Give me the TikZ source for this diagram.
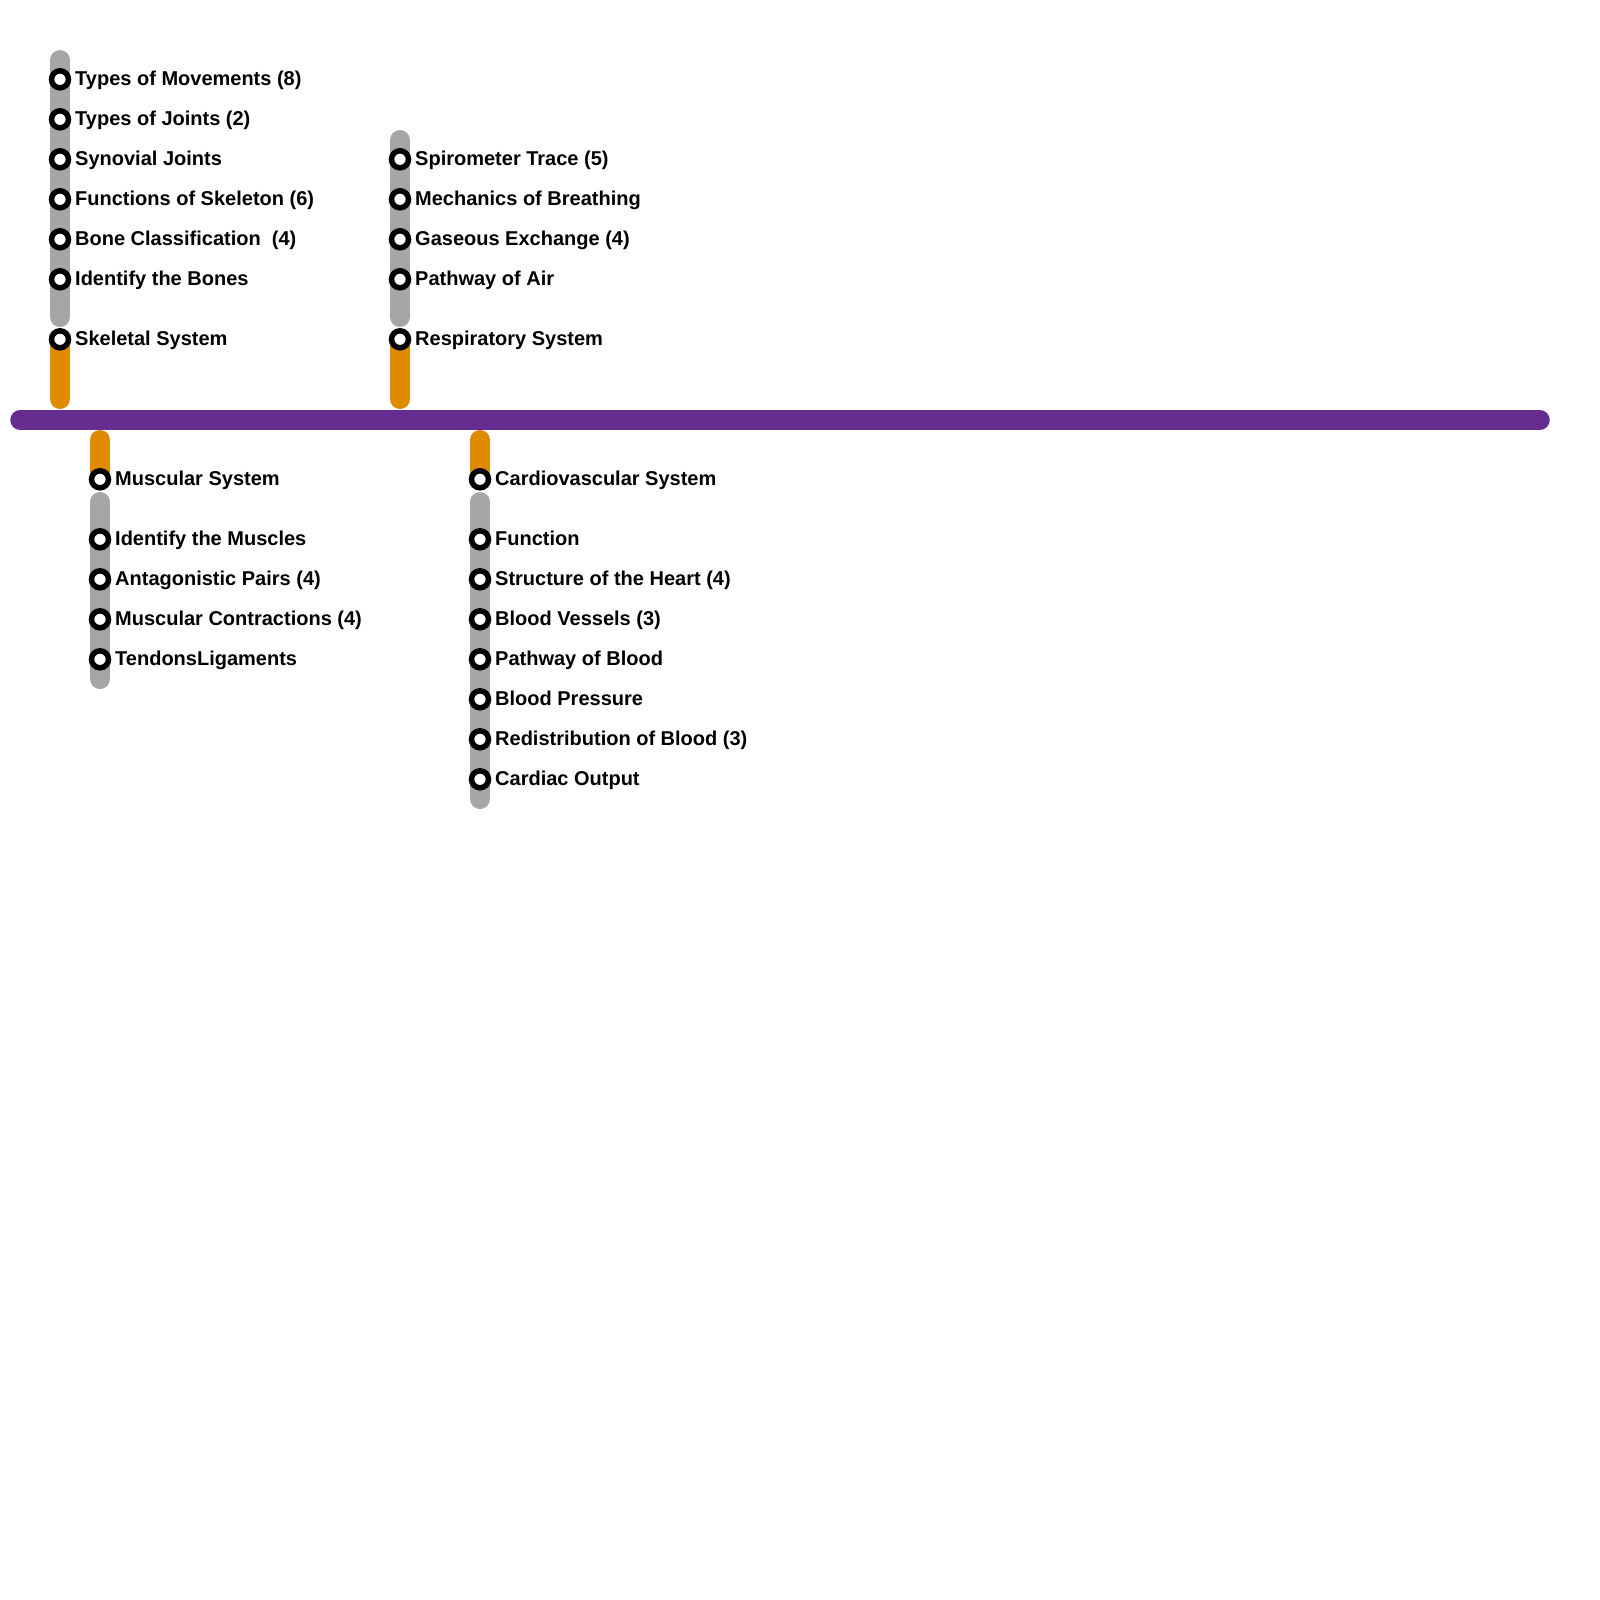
\documentclass[tikz,border=0pt]{standalone}
\usepackage{fontspec}
\setmainfont{Liberation Sans}
\definecolor{linepurple}{HTML}{662D91}
\definecolor{lineorange}{HTML}{E08A00}
\definecolor{linegray}{HTML}{A6A6A6}
\begin{document}
\begin{tikzpicture}[x=1pt,y=-1pt,
  trunk/.style={line width=19.5pt,line cap=round,draw=linepurple},
  branch/.style={line width=20pt,line cap=round,draw=lineorange},
  topic/.style={line width=20pt,line cap=round,draw=linegray},
  station/.style={circle,draw=black,fill=white,line width=5.5pt,minimum size=17pt,inner sep=0pt},
  lbl/.style={anchor=base west,inner sep=0pt,font=\fontsize{20}{22}\selectfont\bfseries}]
\useasboundingbox (0,0) rectangle (1600,1600);
% trunk
\coordinate (tl) at (20,420);
\coordinate (tr) at (1540,420);
\draw[trunk] (tl) -- (tr);
% skeletal
\coordinate (skA) at (60,60);
\coordinate (skB) at (60,317);
\coordinate (skC) at (60,339);
\coordinate (skD) at (60,399);
\draw[branch] (skC) -- (skD);
\draw[topic] (skA) -- (skB);
% respiratory
\coordinate (reA) at (400,140);
\coordinate (reB) at (400,317);
\coordinate (reC) at (400,339);
\coordinate (reD) at (400,399);
\draw[branch] (reC) -- (reD);
\draw[topic] (reA) -- (reB);
% muscular
\coordinate (muA) at (100,440);
\coordinate (muB) at (100,479);
\coordinate (muC) at (100,502);
\coordinate (muD) at (100,679);
\draw[branch] (muA) -- (muB);
\draw[topic] (muC) -- (muD);
% cardio
\coordinate (caA) at (480,440);
\coordinate (caB) at (480,479);
\coordinate (caC) at (480,502);
\coordinate (caD) at (480,799);
\draw[branch] (caA) -- (caB);
\draw[topic] (caC) -- (caD);
% stations skeletal
\foreach \n/\y/\t in {s1/79.3/{Types of Movements (8)},s2/119.3/{Types of Joints (2)},s3/159.3/{Synovial Joints},s4/199.3/{Functions of Skeleton (6)},s5/239.3/{Bone Classification\ \ (4)},s6/279.3/{Identify the Bones},s7/339.3/{Skeletal System}}{
  \node[station] (\n) at (60,\y) {};
  \node[lbl] (\n t) at (75,\y+6) {\t};
}
\foreach \n/\y/\t in {r1/159.3/{Spirometer Trace (5)},r2/199.3/{Mechanics of Breathing},r3/239.3/{Gaseous Exchange (4)},r4/279.3/{Pathway of Air},r5/339.3/{Respiratory System}}{
  \node[station] (\n) at (400,\y) {};
  \node[lbl] (\n t) at (415,\y+6) {\t};
}
\foreach \n/\y/\t in {m1/479.3/{Muscular System},m2/539.3/{Identify the Muscles},m3/579.3/{Antagonistic Pairs (4)},m4/619.3/{Muscular Contractions (4)},m5/659.3/{TendonsLigaments}}{
  \node[station] (\n) at (100,\y) {};
  \node[lbl] (\n t) at (115,\y+6) {\t};
}
\foreach \n/\y/\t in {c1/479.3/{Cardiovascular System},c2/539.3/{Function},c3/579.3/{Structure of the Heart (4)},c4/619.3/{Blood Vessels (3)},c5/659.3/{Pathway of Blood},c6/699.3/{Blood Pressure},c7/739.3/{Redistribution of Blood (3)},c8/779.3/{Cardiac Output}}{
  \node[station] (\n) at (480,\y) {};
  \node[lbl] (\n t) at (495,\y+6) {\t};
}
\end{tikzpicture}
\end{document}
